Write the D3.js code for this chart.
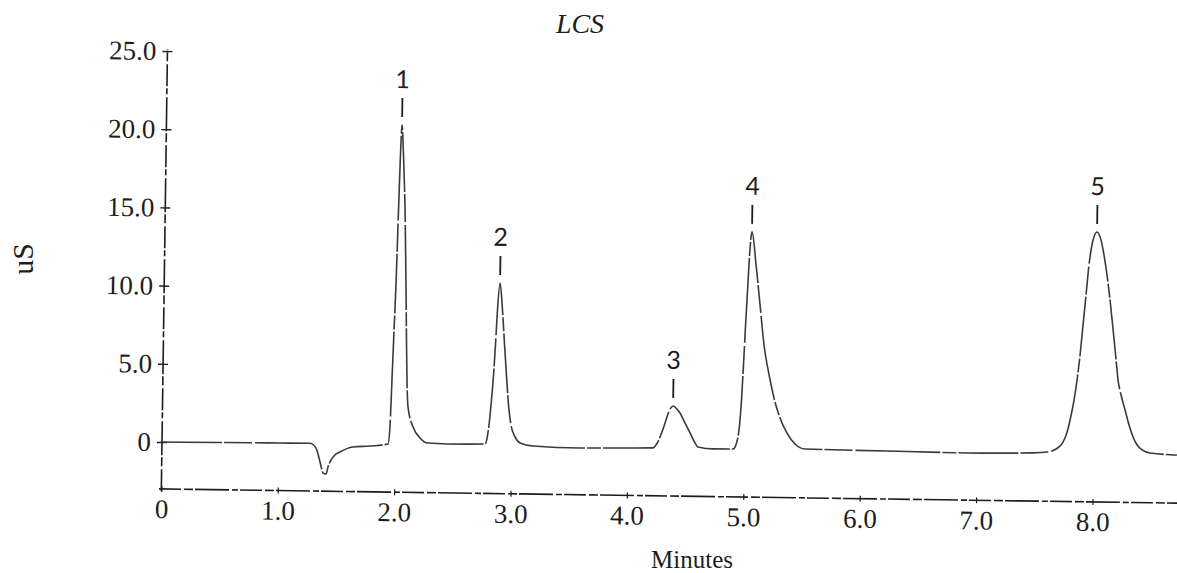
<!DOCTYPE html>
<html>
<head>
<meta charset="utf-8">
<script src="https://cdn.jsdelivr.net/npm/d3@7/dist/d3.min.js"></script>
<style>
  html, body { margin: 0; padding: 0; background: #fff; }
  svg { display: block; }
</style>
</head>
<body>
<svg id="chart" width="1177" height="573"></svg>
<script>
// Conductivity trace (minutes, uS)
const traceMinutes = [0.00, 0.50, 1.01, 1.27, 1.324, 1.360, 1.387, 1.413, 1.429, 1.479, 1.530, 1.641, 1.787,
  1.942, 1.957, 1.968, 1.980, 1.991, 2.004, 2.014, 2.024, 2.040, 2.060, 2.077, 2.088, 2.097, 2.109, 2.155, 2.216, 2.285, 2.449,
  2.775, 2.807, 2.822, 2.840, 2.853, 2.866, 2.885, 2.909, 2.931, 2.951, 2.972, 2.996, 3.032, 3.076, 3.188,
  3.592, 3.875, 4.219, 4.244, 4.278, 4.311, 4.335, 4.360, 4.386, 4.411, 4.446, 4.491, 4.535, 4.570, 4.605, 4.734,
  4.906, 4.940, 4.959, 4.973, 4.986, 4.999, 5.012, 5.025, 5.043, 5.082, 5.121, 5.160, 5.207, 5.252, 5.306, 5.368, 5.438, 5.525,
  6.230, 6.917, 7.484, 7.604, 7.681, 7.741, 7.774, 7.798, 7.830, 7.853, 7.876, 7.898, 7.920, 7.942, 7.974, 8.007,
  8.042, 8.080, 8.118, 8.157, 8.186, 8.205, 8.233, 8.269, 8.305, 8.341, 8.377, 8.420, 8.489, 8.720];
const traceUS = [0.00, 0.02, 0.04, 0.05, -0.25, -1.14, -1.84, -1.90, -1.45, -0.74, -0.48, -0.15, -0.07,
  0.08, 1.29, 4.17, 7.37, 10.25, 15.05, 18.56, 20.48, 18.57, 15.05, 10.26, 6.74, 4.18, 2.46, 1.18, 0.49, 0.17, 0.13,
  0.16, 1.38, 2.66, 4.58, 6.50, 8.74, 10.47, 8.75, 6.51, 4.59, 2.68, 1.40, 0.64, 0.26, 0.08,
  -0.01, 0.02, 0.06, 0.25, 0.77, 1.47, 2.05, 2.56, 2.76, 2.63, 2.32, 1.68, 1.05, 0.54, 0.16, 0.05,
  0.06, 0.58, 1.60, 3.20, 5.44, 8.00, 10.24, 12.48, 13.96, 11.85, 9.29, 6.74, 4.83, 3.36, 2.09, 1.13, 0.44, 0.13,
  0.07, 0.02, 0.08, 0.15, 0.35, 0.81, 1.45, 2.22, 3.50, 4.78, 6.38, 8.31, 10.23, 12.15, 13.75, 14.26,
  13.76, 12.35, 10.44, 8.01, 6.10, 4.82, 3.86, 2.91, 1.95, 1.19, 0.68, 0.37, 0.18, 0.07];

// Peak identification
const peakNumbers = ["1", "2", "3", "4", "5"];
const peakMinutes = [2.024, 2.885, 4.386, 5.043, 8.007];
const peakUS = [20.48, 10.47, 2.76, 13.96, 14.26];

// Axes
const xTickValues = [0, 1, 2, 3, 4, 5, 6, 7, 8];
const xTickLabels = ["0", "1.0", "2.0", "3.0", "4.0", "5.0", "6.0", "7.0", "8.0"];
const yTickValues = [0, 5, 10, 15, 20, 25];
const yTickLabels = ["0", "5.0", "10.0", "15.0", "20.0", "25.0"];

const titleText = "LCS";
const xTitle = "Minutes";
const yTitle = "uS";

const svg = d3.select("#chart");
const ink = "#1d1d1d";
const traceInk = "#3a3a3a";
const serif = "'Liberation Serif', 'Times New Roman', serif";

const x = d3.scaleLinear().domain([0, 8]).range([162, 1093.2]);
const y = d3.scaleLinear().domain([0, 25]).range([442, 51]);

// the recorder plot sits slightly askew on the page
const plot = svg.append("g").attr("transform", `rotate(0.8, ${x(0)}, ${y(0)})`);

// axis lines
const axisDash = "22,3,9,2,34,3,6,2";
plot.append("line")
  .attr("x1", x(0)).attr("x2", x(0))
  .attr("y1", y(-3.15)).attr("y2", y(25.1))
  .attr("stroke", ink).attr("stroke-width", 1.6)
  .attr("stroke-dasharray", axisDash);
plot.append("line")
  .attr("x1", x(-0.02)).attr("x2", x(8.8))
  .attr("y1", y(-3)).attr("y2", y(-3))
  .attr("stroke", ink).attr("stroke-width", 1.6)
  .attr("stroke-dasharray", axisDash);

// y axis ticks and labels
const yAxis = d3.axisLeft(y)
  .tickValues(yTickValues)
  .tickFormat((d, i) => yTickLabels[i])
  .tickSize(5)
  .tickPadding(6);
const gy = plot.append("g").attr("transform", `translate(${x(0)},0)`).call(yAxis);
gy.select(".domain").remove();
gy.selectAll(".tick line").attr("x1", -5).attr("x2", 5).attr("stroke", ink).attr("stroke-width", 1.4);
gy.selectAll(".tick text")
  .attr("font-family", serif).attr("font-size", 27).attr("fill", ink);

// x axis ticks and labels
const xAxis = d3.axisBottom(x)
  .tickValues(xTickValues)
  .tickFormat((d, i) => xTickLabels[i])
  .tickSize(3)
  .tickPadding(7);
const gx = plot.append("g").attr("transform", `translate(0,${y(-3)})`).call(xAxis);
gx.select(".domain").remove();
gx.selectAll(".tick line").attr("y1", -3).attr("y2", 3).attr("stroke", ink).attr("stroke-width", 1.2);
gx.selectAll(".tick text")
  .attr("font-family", serif).attr("font-size", 27).attr("fill", ink);

// chromatogram trace
const tracePoints = traceMinutes.map((t, i) => [t, traceUS[i]]);
const line = d3.line()
  .x(d => x(d[0]))
  .y(d => y(d[1]))
  .curve(d3.curveMonotoneX);
plot.append("path")
  .datum(tracePoints)
  .attr("d", line)
  .attr("fill", "none")
  .attr("stroke", traceInk)
  .attr("stroke-width", 1.6)
  .attr("stroke-linejoin", "round")
  .attr("stroke-dasharray", "60,2,28,3,85,2,14,2");

// peak markers
const peaks = plot.append("g");
peakNumbers.forEach((label, i) => {
  const px = x(peakMinutes[i]);
  const py = y(peakUS[i]);
  peaks.append("line")
    .attr("x1", px).attr("x2", px)
    .attr("y1", py - 8).attr("y2", py - 27)
    .attr("stroke", ink).attr("stroke-width", 1.8);
  peaks.append("text")
    .attr("x", px).attr("y", py - 37)
    .attr("text-anchor", "middle")
    .attr("font-family", "Lato, 'Liberation Sans', sans-serif")
    .attr("font-size", 25)
    .attr("fill", ink)
    .text(label);
});

// titles
svg.append("text")
  .attr("x", 580).attr("y", 33)
  .attr("text-anchor", "middle")
  .attr("font-family", serif).attr("font-style", "italic")
  .attr("font-size", 28).attr("fill", ink)
  .text(titleText);
svg.append("text")
  .attr("x", 692).attr("y", 568)
  .attr("text-anchor", "middle")
  .attr("font-family", serif)
  .attr("font-size", 25).attr("fill", ink)
  .text(xTitle);
svg.append("text")
  .attr("transform", "translate(33,259) rotate(-90)")
  .attr("text-anchor", "middle")
  .attr("font-family", serif)
  .attr("font-size", 30).attr("fill", ink)
  .text(yTitle);
</script>
</body>
</html>
